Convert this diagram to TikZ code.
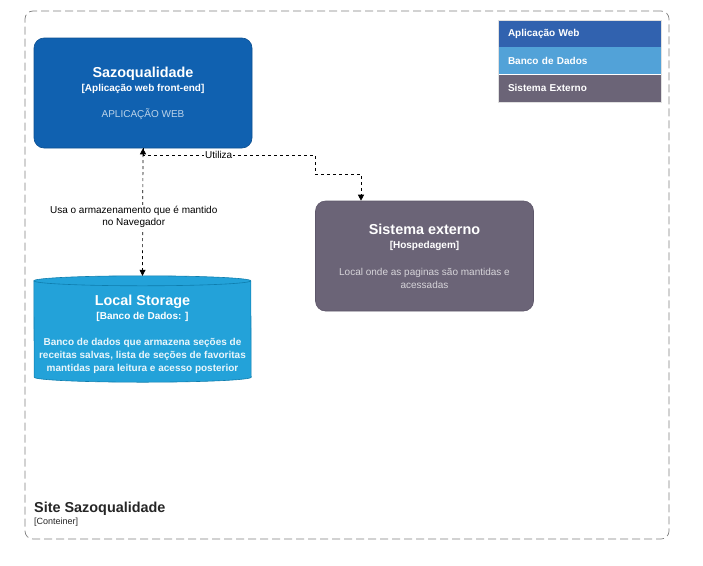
\documentclass[tikz,border=0pt]{standalone}
\usepackage{fontspec}
\setmainfont{Liberation Sans}
\usetikzlibrary{positioning,arrows.meta,backgrounds}

\definecolor{webfill}{HTML}{1061B0}
\definecolor{webline}{HTML}{0D5091}
\definecolor{dbfill}{HTML}{23A2D9}
\definecolor{dbline}{HTML}{0E7DAD}
\definecolor{extfill}{HTML}{6B6477}
\definecolor{extline}{HTML}{5E576A}
\definecolor{legweb}{HTML}{3162AF}
\definecolor{legdb}{HTML}{52A2D8}
\definecolor{frameline}{HTML}{7F7F7F}
\definecolor{sitetext}{HTML}{262626}

\newcommand{\boxtitle}[1]{{\fontsize{14.4}{16}\selectfont\bfseries #1}}

\tikzset{
  >={Triangle[length=6pt,width=6pt]},
  box/.style={rounded corners=10pt, minimum width=218pt, minimum height=110pt,
    align=center, text=white, font=\fontsize{10}{13}\selectfont, line width=0.6pt},
  webapp/.style={box, fill=webfill, draw=webline},
  extsys/.style={box, fill=extfill, draw=extline},
  storage/.style={minimum width=217pt, minimum height=106pt, inner sep=0pt},
  storetext/.style={align=center, text=white, font=\fontsize{10}{13}\selectfont},
  rel/.style={dash pattern=on 3pt off 3pt, line width=0.7pt},
  rellabel/.style={fill=white, inner sep=1pt, align=center,
    font=\fontsize{10}{12}\selectfont},
  legrow/.style={minimum height=27pt, text width=143pt, inner xsep=10pt, inner ysep=0pt,
    text=white, align=left, font=\fontsize{10}{12}\selectfont\bfseries},
  boundary/.style={draw=frameline, dash pattern=on 8pt off 4pt, rounded corners=8pt,
    line width=0.7pt, minimum width=644pt, minimum height=528pt},
}

\begin{document}
\begin{tikzpicture}[x=1pt,y=1pt]
  \useasboundingbox (0,0) rectangle (703,-565);

  % boundary
  \node[boundary] (site) at (347,-275) {};
  \node[anchor=west, inner sep=0pt, text=sitetext, font=\fontsize{14.4}{16}\selectfont\bfseries]
    (site-name) at (34,-509) {Site Sazoqualidade};
  \node[anchor=west, inner sep=0pt, text=sitetext, font=\fontsize{9}{11}\selectfont]
    (site-type) at (34,-522) {[Conteiner]};

  % containers
  \node[webapp] (sazo) at (143,-93) {\boxtitle{Sazoqualidade}\\[1pt]
    \textbf{[Aplicação web front-end]}\\[13pt]
    {\color{white!72!webfill}APLICAÇÃO WEB}};

  \node[extsys] (ext) at (424.5,-256) {\boxtitle{Sistema externo}\\[1pt]
    \textbf{[Hospedagem]}\\[14pt]
    {\color{white!72!extfill}Local onde as paginas são mantidas e}\\
    {\color{white!72!extfill}acessadas}};

  \node[storage] (store) at (142.5,-329) {};
  \begin{scope}[on background layer]
    \path[fill=dbfill, draw=dbline, line width=0.6pt]
      ([yshift=-5pt]store.north west) arc[start angle=180, end angle=0, x radius=108.5pt, y radius=5pt]
      -- ([yshift=5pt]store.south east) arc[start angle=0, end angle=-180, x radius=108.5pt, y radius=5pt]
      -- cycle;
    \draw[dbline, line width=0.6pt]
      ([yshift=-5pt]store.north west) arc[start angle=180, end angle=360, x radius=108.5pt, y radius=5pt];
  \end{scope}
  \node[storetext] (store-text) at (142.5,-334.5) {\boxtitle{Local Storage}\\[1.6pt]
    \textbf{[Banco de Dados: ]}\\[13pt]
    {\bfseries\color{white!90!dbfill}Banco de dados que armazena seções de}\\
    {\bfseries\color{white!90!dbfill}receitas salvas, lista de seções de favoritas}\\
    {\bfseries\color{white!90!dbfill}mantidas para leitura e acesso posterior}};

  % relations
  \draw[rel, <->] (sazo.south) -- node[rellabel, pos=0.54, xshift=-9pt] (lbl-usa)
    {Usa o armazenamento que é mantido\\no Navegador} (store.north);
  \draw[rel, ->] (sazo.south) |- node[rellabel, pos=0.72] (lbl-utiliza) {Utiliza} (315,-155)
    -- (315,-174) -| ([xshift=-63.5pt]ext.north);

  % legend
  \node[legrow, fill=legweb] (leg-web) at (579.5,-33.5) {Aplicação Web};
  \node[legrow, fill=legdb, below=0pt of leg-web] (leg-db) {Banco de Dados};
  \node[legrow, fill=extfill, below=0pt of leg-db] (leg-ext) {Sistema Externo};
  \draw[black!12, line width=0.6pt] (leg-web.north west) rectangle (leg-ext.south east);
\end{tikzpicture}
\end{document}
